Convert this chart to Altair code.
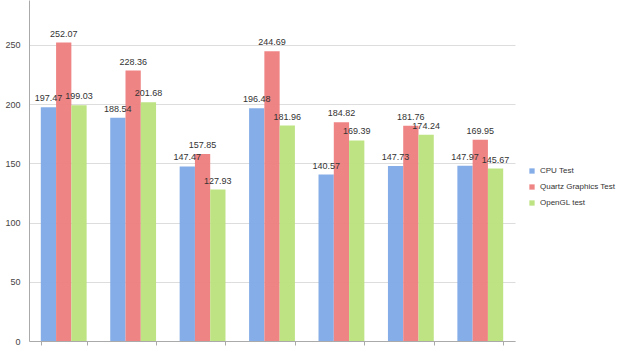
import altair as alt
import pandas as pd

groups = ["1", "2", "3", "4", "5", "6", "7"]
series = ["CPU Test", "Quartz Graphics Test", "OpenGL test"]
cpu = [197.47, 188.54, 147.47, 196.48, 140.57, 147.73, 147.97]
quartz = [252.07, 228.36, 157.85, 244.69, 184.82, 181.76, 169.95]
opengl = [199.03, 201.68, 127.93, 181.96, 169.39, 174.24, 145.67]
colors = ["#7ea9e6", "#ee7d7d", "#b9e27c"]

rows = []
for i, g in enumerate(groups):
    for s, vals in zip(series, [cpu, quartz, opengl]):
        rows.append({"group": g, "series": s, "value": vals[i], "label": f"{vals[i]:.2f}"})
df = pd.DataFrame(rows)

x = alt.X("group:N", sort=groups, title=None,
          scale=alt.Scale(paddingInner=0.34, paddingOuter=0.17),
          axis=alt.Axis(labels=False, tickBand="extent", tickSize=4, tickColor="#aaaaaa",
                        domainColor="#aaaaaa", grid=False))
xo = alt.XOffset("series:N", sort=series, scale=alt.Scale(paddingInner=0, paddingOuter=0))
y = alt.Y("value:Q", title=None,
          scale=alt.Scale(domain=[0, 288], nice=False, zero=True),
          axis=alt.Axis(values=[0, 50, 100, 150, 200, 250], ticks=False, labelPadding=9,
                        labelFontSize=9, labelColor="#444444", domainColor="#aaaaaa",
                        gridColor="#dddddd", labelFont="Liberation Sans"))

bars = alt.Chart(df).mark_bar(opacity=0.95).encode(
    x=x, xOffset=xo, y=y,
    color=alt.Color("series:N", sort=series,
                    scale=alt.Scale(domain=series, range=colors),
                    legend=alt.Legend(title=None, orient="none", legendX=499, legendY=167,
                                      symbolType="square", symbolSize=28, labelFontSize=8,
                                      labelFont="Liberation Sans", labelColor="#333333",
                                      labelOffset=4, labelLimit=200,
                                      rowPadding=8, symbolStrokeWidth=0)),
)
text = alt.Chart(df).mark_text(dy=-9, fontSize=9, color="#333333", font="Liberation Sans").encode(
    x=x, xOffset=xo, y="value:Q", text="label:N"
)

chart = (bars + text).properties(
    width=486, height=341,
    autosize=alt.AutoSizeParams(type="none"),
    padding={"left": 29, "top": 0, "right": 105, "bottom": 9},
).configure(background="white").configure_view(stroke=None)

chart.save("out.html", embed_options={"renderer": "svg", "actions": False})
